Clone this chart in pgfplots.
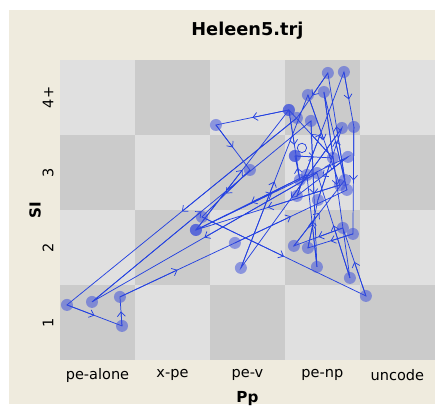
\documentclass[border=0pt]{standalone}
\usepackage{pgfplots}
\pgfplotsset{compat=1.18}
\usepackage{pgfplotstable}
\usepackage{fontspec}
\setmainfont{DejaVu Sans}
\usetikzlibrary{decorations.pathreplacing,calc,arrows.meta}

\definecolor{panel}{RGB}{239,235,222}
\definecolor{celllight}{RGB}{224,224,224}
\definecolor{celldark}{RGB}{203,203,203}
\definecolor{trajline}{RGB}{35,65,225}
\definecolor{trajpoint}{RGB}{55,75,220}

% visited states in order (Pp = x, SI = y), jittered inside each cell
\pgfplotstableread{
x     y
3.633 3.220
4.140 3.193
3.553 3.833
2.580 3.633
3.033 3.033
2.393 2.407
4.580 1.353
4.273 2.260
3.620 2.020
4.300 2.900
4.073 4.327
3.660 3.727
0.593 1.233
1.327 0.953
1.300 1.340
2.833 2.060
4.327 2.767
4.020 4.073
4.367 1.593
3.927 2.993
0.927 1.273
3.847 3.687
3.927 1.740
3.793 2.967
2.313 2.233
4.340 3.207
3.660 2.687
4.287 4.340
4.420 3.607
4.407 2.180
3.807 1.993
3.940 2.633
4.260 3.593
2.913 1.727
3.807 4.033
4.233 2.833
2.313 2.233
3.553 3.833
3.700 2.900
3.633 3.220
}\traj

\tikzset{
  midarrow/.style={draw=trajline, line width=0.55pt,
    -{Straight Barb[length=3.4pt,width=6pt]}},
  segment arrows/.style={postaction={decorate},
    decoration={show path construction,
      lineto code={\draw[midarrow] (\tikzinputsegmentfirst) --
        ($(\tikzinputsegmentfirst)!0.5!(\tikzinputsegmentlast)$);}}}
}

\begin{document}
\begin{tikzpicture}
% page and panel
\fill[white] (0,0) rectangle (326.25pt,305.25pt);
\fill[panel] (6.75pt,2.25pt) rectangle (326.25pt,297.75pt);
\node[font=\bfseries\fontsize{13.3}{15}\selectfont] at (185.6pt,282pt) {Heleen5.trj};
\node[font=\bfseries\fontsize{11.4}{13}\selectfont, anchor=base] at (185.6pt,3.2pt) {Pp};
\node[font=\bfseries\fontsize{11.4}{13}\selectfont, rotate=90] at (26.25pt,147.75pt) {SI};

\begin{axis}[
  at={(45pt,35.25pt)}, anchor=south west,
  scale only axis, width=281.25pt, height=225pt,
  xmin=0.5, xmax=5.5, ymin=0.5, ymax=4.5,
  xtick={1,2,3,4,5},
  xticklabels={pe-alone,x-pe,pe-v,pe-np,uncode},
  ytick={1,2,3,4},
  yticklabels={1,2,3,4+},
  /pgf/number format/assume math mode=true,
  major tick length=0pt,
  axis line style={draw=none},
  tick label style={font=\fontsize{10.9}{13}\selectfont},
  xticklabel style={anchor=center, yshift=-11.5pt},
  yticklabel style={anchor=center, xshift=-9pt, rotate=90},
  clip=false,
]
% checkerboard of the state space grid
\fill[celllight] (axis cs:0.5,0.5) rectangle (axis cs:5.5,4.5);
\fill[celldark] (axis cs:0.5,0.5) rectangle (axis cs:1.5,1.5);
\fill[celldark] (axis cs:0.5,2.5) rectangle (axis cs:1.5,3.5);
\fill[celldark] (axis cs:1.5,1.5) rectangle (axis cs:2.5,2.5);
\fill[celldark] (axis cs:1.5,3.5) rectangle (axis cs:2.5,4.5);
\fill[celldark] (axis cs:2.5,0.5) rectangle (axis cs:3.5,1.5);
\fill[celldark] (axis cs:2.5,2.5) rectangle (axis cs:3.5,3.5);
\fill[celldark] (axis cs:3.5,1.5) rectangle (axis cs:4.5,2.5);
\fill[celldark] (axis cs:3.5,3.5) rectangle (axis cs:4.5,4.5);
\fill[celldark] (axis cs:4.5,0.5) rectangle (axis cs:5.5,1.5);
\fill[celldark] (axis cs:4.5,2.5) rectangle (axis cs:5.5,3.5);

% visits
\addplot[only marks, mark=*, mark size=4.5pt, draw=none, fill=trajpoint,
  mark options={draw=none, draw opacity=0, fill=trajpoint, fill opacity=0.5}]
  table {\traj};
% transitions, each with an arrow halfway
\addplot[trajline, line width=0.55pt, mark=none, segment arrows] table {\traj};
% start of the trajectory
\addplot[only marks, mark=o, mark size=3.5pt,
  mark options={draw=trajline, line width=0.55pt}] coordinates {(3.727,3.327)};
\end{axis}
\end{tikzpicture}
\end{document}
